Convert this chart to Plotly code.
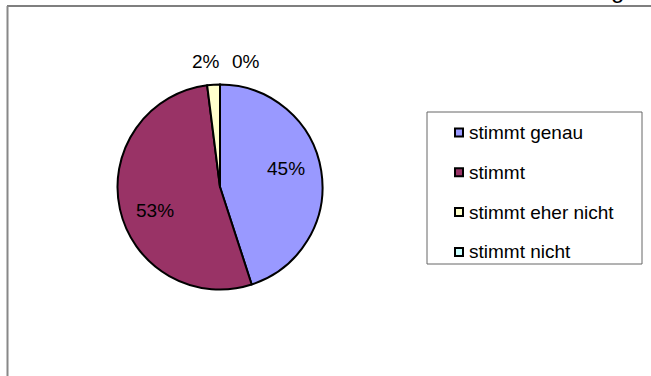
import math
import plotly.graph_objects as go

# ---- data ----
labels = ["stimmt genau", "stimmt", "stimmt eher nicht", "stimmt nicht"]
values = [45, 53, 2, 0]
colors = ["#9999FF", "#993366", "#FFFFCC", "#CCFFFF"]
title_fragment = "g"

W, H = 651, 376
FONT = "Liberation Sans, Arial, sans-serif"


def px(x):
    return x / W


def py(y):
    return 1 - y / H


cx, cy, R = 220.0, 187.0, 102.5

fig = go.Figure()
fig.add_trace(go.Pie(
    labels=labels,
    values=values,
    marker=dict(colors=colors, line=dict(color="black", width=2)),
    sort=False,
    direction="clockwise",
    rotation=0,
    textinfo="none",
    hoverinfo="label+percent",
    showlegend=False,
    domain=dict(x=[px(cx - R), px(cx + R)], y=[py(cy + R), py(cy - R)]),
))

annotations = []
shapes = []

# percentage labels placed from slice mid-angles
total = sum(values)
cum = 0.0
outside_shift = {2: -14, 3: 26}
for i, v in enumerate(values):
    mid = (cum + v / 2) / total * 2 * math.pi
    cum += v
    pct = f"{round(v / total * 100)}%"
    if i < 2:
        r = 0.67 * R
        a = mid - math.radians(7)
        x = cx + r * math.sin(a)
        y = cy - r * math.cos(a)
        xs = 0
    else:
        r = R + 23
        x = cx
        y = cy - r
        xs = outside_shift[i]
    annotations.append(dict(
        x=px(x), y=py(y), xref="paper", yref="paper", text=pct,
        showarrow=False, xanchor="center", yanchor="middle", xshift=xs,
        font=dict(family=FONT, size=19, color="black"),
    ))

# custom legend
lx0, ly0, lx1, ly1 = 427, 112, 642, 264
shapes.append(dict(type="rect", xref="paper", yref="paper",
                   x0=px(lx0), x1=px(lx1), y0=py(ly1), y1=py(ly0),
                   line=dict(color="#666666", width=1), fillcolor="white"))
item_y0, item_gap = 132.5, 39.8
for i, (lab, col) in enumerate(zip(labels, colors)):
    yy = item_y0 + i * item_gap
    shapes.append(dict(type="rect", xref="paper", yref="paper",
                       x0=px(455), x1=px(463), y0=py(yy + 4), y1=py(yy - 4),
                       line=dict(color="black", width=2), fillcolor=col))
    annotations.append(dict(
        x=px(467), y=py(yy), xref="paper", yref="paper", text=lab,
        showarrow=False, xanchor="left", yanchor="middle",
        font=dict(family=FONT, size=19, color="black"),
    ))

# frame border
shapes.append(dict(type="line", xref="paper", yref="paper",
                   x0=px(7), x1=1.0, y0=py(6), y1=py(6),
                   line=dict(color="#555555", width=1.5)))
shapes.append(dict(type="line", xref="paper", yref="paper",
                   x0=px(7.5), x1=px(7.5), y0=py(6), y1=0.0,
                   line=dict(color="#888888", width=2)))

# cut-off title fragment (the reference shows only its descender)
annotations.append(dict(
    x=px(617), y=py(5), xref="paper", yref="paper", text=title_fragment,
    showarrow=False, xanchor="center", yanchor="bottom",
    font=dict(family=FONT, size=24, color="black"),
))

fig.update_layout(
    width=W, height=H,
    margin=dict(l=0, r=0, t=0, b=0),
    paper_bgcolor="white", plot_bgcolor="white",
    shapes=shapes, annotations=annotations,
    showlegend=False,
)

fig.write_html("out.html")
